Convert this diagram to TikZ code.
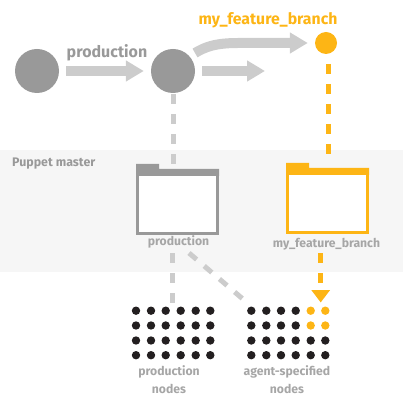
\documentclass[tikz,border=0pt]{standalone}
\usepackage{fontspec}
\setmainfont{Fira Sans}
\usetikzlibrary{arrows.meta}
\definecolor{commitgrey}{HTML}{999999}
\definecolor{flowgrey}{HTML}{CCCCCC}
\definecolor{branchorange}{HTML}{FDB515}
\definecolor{panelgrey}{HTML}{F6F6F6}
\definecolor{dotblack}{HTML}{231F20}
\definecolor{labelgrey}{HTML}{A6A6A6}
\tikzset{
  commit/.style={circle, fill=commitgrey, inner sep=0pt, minimum size=44pt},
  flow/.style={line width=10pt, flowgrey, -{Triangle[length=18pt,width=20pt]}, shorten <=7pt, shorten >=7pt},
  link/.style={line width=5pt, flowgrey, dash pattern=on 10pt off 10pt},
  branchlink/.style={line width=5pt, branchorange, dash pattern=on 10pt off 10pt},
  folderbox/.style={draw=#1, line width=3pt, fill=white, inner sep=0pt, minimum width=80pt, minimum height=62pt},
  lbl/.style={font=\bfseries\fontsize{12.2}{18}\selectfont, text=labelgrey, align=center, inner sep=0pt},
  dot/.style={circle, fill=dotblack, inner sep=0pt, minimum size=8.4pt}
}
\begin{document}
\begin{tikzpicture}[x=1pt, y=-1pt]
\useasboundingbox (0,0) rectangle (403,411);
\fill [panelgrey] (0,150) rectangle (403,272);
\node [lbl, anchor=west, text=commitgrey, font=\bfseries\fontsize{12.4}{18}\selectfont] (master) at (12,164) {Puppet master};
% commits
\node [commit] (first) at (37,71) {};
\node [commit] (second) at (173,71) {};
\node [circle, fill=branchorange, inner sep=0pt, minimum size=22pt] (tip) at (326,43) {};
\coordinate (next) at (272,71);
\coordinate (bend) at (195,53);
\draw [flow] (first) -- (second);
\draw [flow] (second) -- (next);
\draw [flow, shorten <=0pt] (bend) .. controls (205,47) and (215,43) .. (238,43) -- (tip);
\node [font=\bfseries\fontsize{16}{18}\selectfont, text=commitgrey, inner sep=0pt] (prodtitle) at (107,53) {production};
\node [font=\bfseries\fontsize{15.8}{18}\selectfont, text=branchorange, inner sep=0pt] (branchtitle) at (268,20) {my\_feature\_branch};
% folders
\node [folderbox=commitgrey] (prodfolder) at (177.5,202.5) {};
\fill [commitgrey] (136,164) rectangle (159,170) (136,169) rectangle (219,176);
\node [folderbox=branchorange] (branchfolder) at (327.5,201.5) {};
\fill [branchorange] (286,163) rectangle (309,169) (286,168) rectangle (369,175);
\node [lbl] (prodname) at (178.5,242) {production};
\node [lbl] (branchname) at (326.5,244) {my\_feature\_branch};
% links
\coordinate (secondend) at (173,165);
\coordinate (tipstart) at (328,64);
\coordinate (tipend) at (328,164);
\coordinate (prodstart) at (172,253);
\coordinate (prodend) at (172,303);
\coordinate (diagstart) at (189,253);
\coordinate (diagend) at (244,300);
\coordinate (orangestart) at (320.7,253);
\coordinate (orangeend) at (320.7,302.5);
\draw [link, shorten <=1pt] (second.south) -- (secondend);
\draw [branchlink] (tipstart) -- (tipend);
\draw [link] (prodstart) -- (prodend);
\draw [link] (diagstart) -- (diagend);
\draw [branchlink, dash pattern=on 10pt off 10pt on 10pt off 7pt, -{Triangle[length=12.5pt,width=18pt,sep=0pt]}] (orangestart) -- (orangeend);
% node grids
\foreach \col/\xa/\xb in {1/136/251.3, 2/151/266.3, 3/165.7/281, 4/180.7/295.7, 5/195.7/310.7, 6/210.3/325.3} {
  \foreach \row/\yy in {1/310.7, 2/325.5, 3/340.5, 4/355.2} {
    \node [dot] (p\col\row) at (\xa,\yy) {};
    \pgfmathsetmacro{\dotcolor}{(\col>4 && \row<3) ? "branchorange" : "dotblack"}
    \node [dot, fill=\dotcolor] (a\col\row) at (\xb,\yy) {};
  }
}
\node [lbl] (prodnodes) at (169,380) {production\\nodes};
\node [lbl] (agentnodes) at (287,380) {agent-specified\\nodes};
\end{tikzpicture}
\end{document}
